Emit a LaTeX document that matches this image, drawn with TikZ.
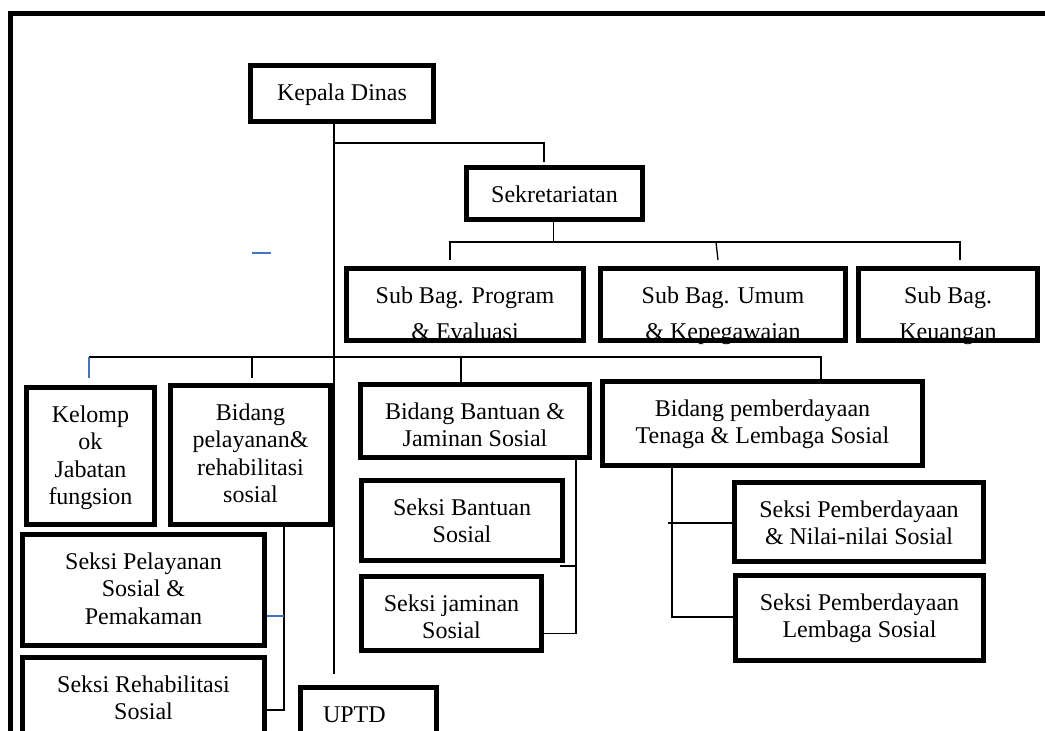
\documentclass[tikz,border=0pt]{standalone}
\usepackage{fontspec}
\setmainfont{Liberation Serif}
\definecolor{lnblue}{RGB}{68,114,196}
\newcommand\btxt[3]{\parbox[c][#2][t]{#1}{\centering\rule{0pt}{34.5pt}#3\par}}
\newcommand\obox[6]{%
  \pgfmathsetmacro\obw{#4-#2-5}%
  \pgfmathsetmacro\obh{#5-#3-5}%
  \node[org] (#1) at ({(#2+#4)/2},{(#3+#5)/2}) {\btxt{\obw pt}{\obh pt}{#6}};}
\begin{document}
\begin{tikzpicture}[x=1pt,y=-1pt,
  org/.style={draw,line width=5pt,inner sep=0pt},
  ln/.style={line width=1.3pt},
  bl/.style={line width=1.3pt,draw=lnblue},
  every node/.style={font=\fontsize{24}{27.5}\selectfont}]
\useasboundingbox (0,0) rectangle (1045,731);
\clip (0,0) rectangle (1045,731);
% outer frame
\draw[line width=5pt] (10.5,740) -- (10.5,13.5) -- (1050,13.5);
% boxes
\obox{kd}{248}{63}{436}{124}{Kepala Dinas}
\obox{sek}{464}{165}{645}{222}{Sekretariatan}
\obox{sb1}{344}{266}{586}{343}{Sub Bag. Program\\[8.5pt] \& Evaluasi}
\obox{sb2}{598}{266}{848}{343}{Sub Bag. Umum\\[8.5pt] \& Kepegawaian}
\obox{sb3}{856}{266}{1040}{343}{Sub Bag.\\[8.5pt] Keuangan}
\obox{kjf}{24}{385}{157}{527}{Kelomp\\ ok\\ Jabatan\\ fungsion}
\obox{bpr}{168}{383}{333}{527}{Bidang\\ pelayanan\&\\ rehabilitasi\\ sosial}
\obox{spl}{20}{532}{267}{648}{Seksi Pelayanan\\ Sosial \&\\ Pemakaman}
\obox{srs}{20}{655}{267}{745}{Seksi Rehabilitasi\\ Sosial}
\node[org] (uptd) at (368.5,716.5) {\parbox[c][58pt][t]{136pt}{\hspace*{22.5pt}\rule{0pt}{34.5pt}UPTD\par}};
\obox{bbj}{358}{382}{592}{460}{Bidang Bantuan \&\\ Jaminan Sosial}
\obox{sbs}{359}{478}{565}{563}{Seksi Bantuan\\ Sosial}
\obox{sjs}{359}{574}{544}{653}{Seksi jaminan\\ Sosial}
\obox{bpt}{600}{379}{925}{468}{Bidang pemberdayaan\\ Tenaga \& Lembaga Sosial}
\obox{spn}{732}{480}{986}{564}{Seksi Pemberdayaan\\ \& Nilai-nilai Sosial}
\obox{spb}{733}{573}{986}{663}{Seksi Pemberdayaan\\ Lembaga Sosial}
% trunk
\coordinate (tb) at (334,674);
\draw[ln] (tb |- kd.south) -- (tb);
% to Sekretariatan
\coordinate (sa) at (334,143);
\coordinate (sbx) at (544,143);
\draw[ln] (sa) -- (sbx) -- ++(0,19);
% Sekretariatan to sub bag
\coordinate (h1) at (553.6,242);
\draw[ln] (h1 |- sek.south) -- (h1);
\coordinate (hl) at (450,242);
\coordinate (hr) at (960,242);
\draw[ln] (hl) ++(0,18) -- (hl) -- (hr) -- ++(0,18);
\draw[ln] (716,242) -- (718,260);
% main horizontal to Bidang
\coordinate (ba) at (89,357);
\coordinate (bz) at (821,357);
\draw[ln] (ba) -- (bz) -- (bz |- bpt.north);
\draw[bl] (ba) -- ++(0,21);
\draw[ln] (252,357) -- (252,378);
\coordinate (bm) at (461,357);
\draw[ln] (bm) -- (bm |- bbj.north);
% left column
\coordinate (cL) at (284,710);
\draw[ln] (cL |- bpr.south) -- (cL) -- (cL -| srs.east);
\coordinate (bq) at (284,616);
\draw[bl] (bq) -- (bq -| spl.east);
% middle column
\coordinate (cM) at (576,633.5);
\draw[ln] (cM |- bbj.south) -- (cM) -- (cM -| sjs.east);
\coordinate (tk) at (576,566);
\draw[ln] (tk) -- ++(-16,0);
% right column
\coordinate (cR) at (672,617);
\draw[ln] (cR |- bpt.south) -- (cR) -- (cR -| spb.west);
\coordinate (cR2) at (668,523);
\draw[ln] (cR2) -- (cR2 -| spn.west);
% blue dash
\draw[lnblue,line width=2.5pt] (252,253) -- (271,253);
\end{tikzpicture}
\end{document}
